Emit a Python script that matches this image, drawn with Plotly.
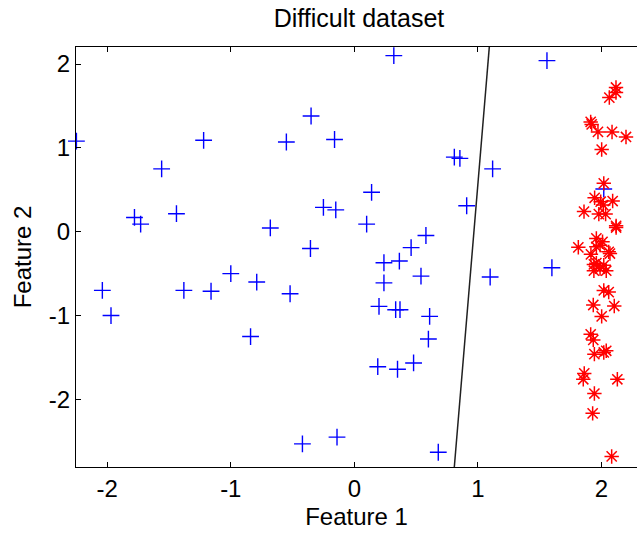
import plotly.graph_objects as go

# Class 1 samples (blue crosses)
class1_x = [0.32, 1.56, -0.35, -1.22, -0.55, -0.16, -2.25, -1.56, 0.81, 0.855,
            1.12, 0.14, -1.78, -1.73, -1.44, -0.25, -0.15, -0.68, 0.10, 0.91,
            0.58, 0.46, -0.355, 0.24, 0.365, 0.54, -1.00, -0.79, 0.24, 1.10,
            1.60, -2.04, -1.38, -1.16, -0.52, -1.97, 0.20, 0.335, 0.37, 0.61,
            -0.84, 0.60, 0.19, 0.35, 0.48, -0.42, -0.14, 0.68, 2.02, 2.32]
class1_y = [2.10, 2.04, 1.38, 1.09, 1.07, 1.10, 1.08, 0.75, 0.89, 0.875,
            0.75, 0.47, 0.17, 0.09, 0.215, 0.29, 0.26, 0.045, 0.09, 0.31,
            -0.045, -0.19, -0.20, -0.37, -0.35, -0.53, -0.50, -0.60, -0.61, -0.54,
            -0.43, -0.70, -0.70, -0.71, -0.74, -1.00, -0.89, -0.93, -0.93, -1.01,
            -1.25, -1.28, -1.61, -1.64, -1.565, -2.53, -2.45, -2.63, 0.51, -1.82]

# Class 2 samples (red asterisks)
class2_x = [2.119, 2.119, 2.065, 1.914, 1.922, 1.973, 2.087, 2.20, 2.003, 2.02,
            1.946, 1.995, 2.016, 2.092, 1.86, 1.98, 2.035, 2.12, 2.12, 1.96,
            2.01, 1.814, 1.916, 1.96, 1.99, 2.06, 2.07, 1.94, 1.96, 1.94,
            2.02, 2.04, 1.99, 2.02, 2.06, 1.935, 2.105, 2.003, 1.914, 1.935,
            1.944, 2.02, 2.04, 1.862, 1.854, 2.13, 1.944, 1.93, 2.084]
class2_y = [1.72, 1.66, 1.60, 1.31, 1.28, 1.19, 1.19, 1.13, 0.98, 0.577,
            0.405, 0.358, 0.318, 0.366, 0.24, 0.21, 0.21, 0.07, 0.05, -0.08,
            -0.12, -0.186, -0.27, -0.18, -0.16, -0.24, -0.26, -0.39, -0.375, -0.465,
            -0.40, -0.465, -0.44, -0.70, -0.72, -0.874, -0.886, -1.01, -1.224, -1.29,
            -1.46, -1.44, -1.42, -1.69, -1.76, -1.76, -1.93, -2.166, -2.68]

# Linear decision boundary
boundary_x = [0.799, 1.110]
boundary_y = [-3.0, 2.5]

x_ticks = [-2, -1, 0, 1, 2]
y_ticks = [-2, -1, 0, 1, 2]
x_tick_labels = ["-2", "-1", "0", "1", "2"]
y_tick_labels = ["-2", "-1", "0", "1", "2"]

font_family = "Liberation Sans, Arial, sans-serif"

fig = go.Figure()

fig.add_trace(go.Scatter(
    x=boundary_x, y=boundary_y, mode="lines",
    line=dict(color="#202020", width=1.5),
    showlegend=False, hoverinfo="skip",
))

fig.add_trace(go.Scatter(
    x=class1_x, y=class1_y, mode="markers",
    marker=dict(symbol="cross-thin", size=12, color="#0000FF",
                line=dict(color="#0000FF", width=1.4)),
    cliponaxis=False, showlegend=False,
))

fig.add_trace(go.Scatter(
    x=class2_x, y=class2_y, mode="markers",
    marker=dict(symbol="asterisk-open", size=12, color="#FF0000",
                line=dict(color="#FF0000", width=1.5)),
    cliponaxis=False, showlegend=False,
))

axis_common = dict(
    showgrid=False, zeroline=False,
    showline=True, linecolor="black", linewidth=1,
    ticks="inside", ticklen=5, tickwidth=1, tickcolor="black",
    tickfont=dict(family=font_family, size=24, color="black"),
)

fig.update_xaxes(
    range=[-2.2534, 2.2891], tickvals=x_ticks, ticktext=x_tick_labels, mirror="ticks",
    title=dict(text="Feature 1", font=dict(family=font_family, size=24, color="black"),
               standoff=7),
    **axis_common,
)
fig.update_yaxes(
    range=[-2.806, 2.203], tickvals=y_ticks, ticktext=y_tick_labels, mirror=False,
    title=dict(text="Feature 2", font=dict(family=font_family, size=24, color="black"),
               standoff=10),
    **axis_common,
)

fig.update_layout(
    width=637, height=534,
    margin=dict(l=76, r=0, t=47, b=67, autoexpand=False),
    paper_bgcolor="white", plot_bgcolor="white",
    title=dict(text="Difficult dataset", x=359 / 637, xref="container",
               xanchor="center", y=1 - 18 / 534, yref="container", yanchor="middle",
               font=dict(family=font_family, size=25, color="black")),
)

fig.write_html("out.html")
